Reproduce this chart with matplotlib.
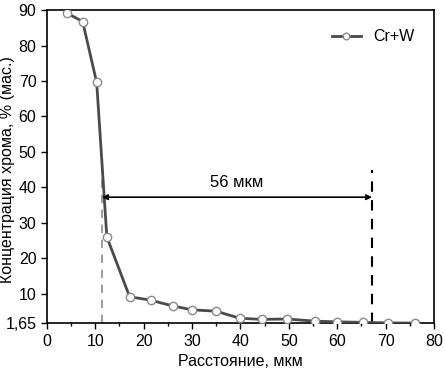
import numpy as np
import matplotlib as mpl
import matplotlib.pyplot as plt
from matplotlib.ticker import MultipleLocator, FixedLocator

mpl.rcParams['font.family'] = ['Liberation Sans', 'DejaVu Sans']

## Data
dist = [4.1, 7.4, 10.3, 12.4, 17.1, 21.5, 26.0, 30.0, 35.0, 39.9, 44.5, 49.6, 55.5, 59.9, 65.4, 70.5, 76.0]
conc = [89.2, 86.8, 69.6, 26.0, 9.1, 8.1, 6.5, 5.4, 5.0, 3.0, 2.7, 2.8, 2.2, 2.0, 1.85, 1.7, 1.65]

x_left  = 11.4
x_right = 67.2
y_arrow = 37.2
y_top   = 45.0
label   = "56 мкм"

yticks  = [1.65, 10, 20, 30, 40, 50, 60, 70, 80, 90]
ylabels = ["1,65", "10", "20", "30", "40", "50", "60", "70", "80", "90"]

fig = plt.figure(figsize=(4.46, 3.77), dpi=100)
ax  = fig.add_axes([0.105, 0.143, 0.868, 0.83])

ax.plot(dist, conc, color="#4a4a4a", lw=2, marker="o", ms=6,
        mfc="white", mec="#8a8a8a", mew=1, label="Cr+W", zorder=3)

ax.plot([x_left, x_left], [1.65, y_top], ls=(0, (5, 4)), color="#8c8c8c", lw=1.2, zorder=2)
ax.plot([x_right, x_right], [1.65, y_top], ls=(0, (5, 4)), color="black", lw=1.5, zorder=2)
ax.annotate("", xy=(x_right, y_arrow), xytext=(x_left, y_arrow),
            arrowprops=dict(arrowstyle="<|-|>", color="black", lw=1.2,
                            shrinkA=0, shrinkB=0, mutation_scale=8))
ax.text((x_left + x_right) / 2, y_arrow + 2.0, label, ha="center", va="bottom", fontsize=12)

ax.set_xlim(0, 80)
ax.set_ylim(1.65, 90)
ax.xaxis.set_major_locator(MultipleLocator(10))
ax.xaxis.set_minor_locator(MultipleLocator(5))
ax.yaxis.set_major_locator(FixedLocator(yticks))
ax.set_yticklabels(ylabels)
ax.tick_params(axis="both", which="major", direction="out", length=4, width=1, labelsize=11.5)
ax.tick_params(axis="both", which="minor", direction="out", length=2, width=1)
for s in ax.spines.values():
    s.set_linewidth(1.2)

ax.set_xlabel("Расстояние, мкм", fontsize=11.5)
ax.set_ylabel("Концентрация хрома, % (мас.)", fontsize=11.5)
ax.yaxis.set_label_coords(-0.082, 0.49)

ax.legend(loc="upper right", frameon=False, fontsize=11.5, handlelength=1.8,
          markerscale=0.8, borderaxespad=0.8)

fig.savefig("out.png", dpi=100)
